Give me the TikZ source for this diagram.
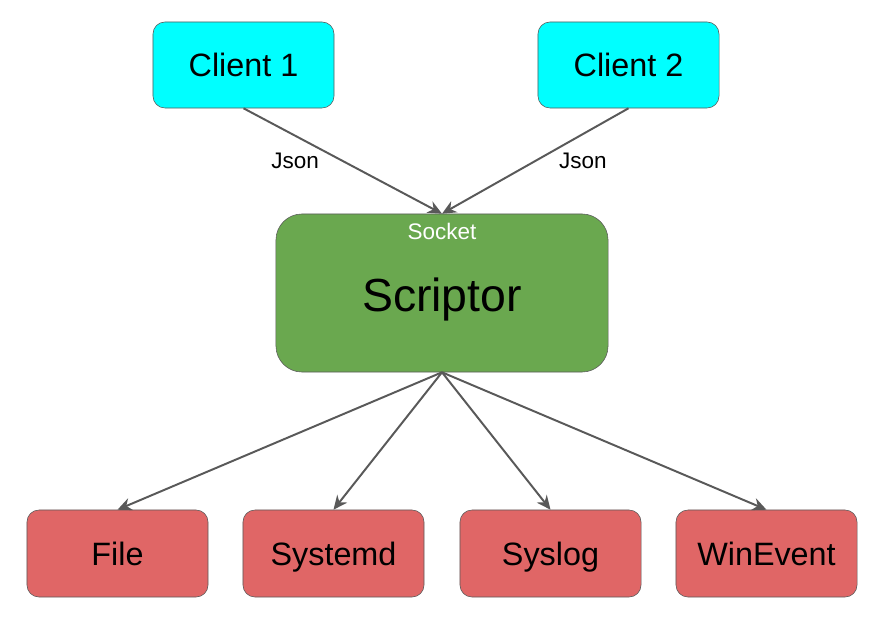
\documentclass[tikz,border=0pt]{standalone}
\usepackage{fontspec}
\setmainfont{Liberation Sans}
\usetikzlibrary{arrows.meta}
\definecolor{clientcyan}{HTML}{00FFFF}
\definecolor{scriptgreen}{HTML}{6AA84F}
\definecolor{sinkred}{HTML}{E06666}
\definecolor{edgegray}{HTML}{595959}
\tikzset{
  client/.style={draw=edgegray, fill=clientcyan, rounded corners=0.3cm,
    minimum width=4.525cm, minimum height=2.15cm, text height=19pt, text depth=2.6pt,
    font=\fontsize{23}{27}\selectfont},
  sink/.style={draw=edgegray, fill=sinkred, rounded corners=0.3cm,
    minimum width=4.525cm, minimum height=2.175cm, text height=19pt, text depth=2.6pt,
    font=\fontsize{23}{27}\selectfont},
  link/.style={draw=edgegray, line width=1.4pt, -{Stealth[length=10pt, width=9pt]}},
  tag/.style={font=\fontsize{16}{19}\selectfont},
}
\begin{document}
\begin{tikzpicture}[x=0.025cm, y=-0.025cm]
    \useasboundingbox (0,0) rectangle (880,622);
    \node[client] (C1) at (243.5,65) {Client 1};
    \node[client] (C2) at (628.5,65) {Client 2};
    \node[draw=edgegray, fill=scriptgreen, rounded corners=0.65cm,
      minimum width=8.3cm, minimum height=3.95cm] (S) at (442,293) {};
    \node[tag, text=white, anchor=base] (Sock) at (442,239.5) {Socket};
    \node[font=\fontsize{33}{38}\selectfont, anchor=base] (Scr) at (442,312) {Scriptor};
    \node[sink] (F) at (117.5,553.5) {File};
    \node[sink] (Sd) at (333.5,553.5) {Systemd};
    \node[sink] (Sl) at (550.5,553.5) {Syslog};
    \node[sink] (W) at (766.5,553.5) {WinEvent};
    \draw[link] (C1.south) -- (S.north) node[tag, midway, left=13pt] {Json};
    \draw[link] (C2.south) -- (S.north) node[tag, midway, right=13pt] {Json};
    \draw[link] (S.south) -- (F.north);
    \draw[link] (S.south) -- (Sd.north);
    \draw[link] (S.south) -- (Sl.north);
    \draw[link] (S.south) -- (W.north);
  \end{tikzpicture}
\end{document}
